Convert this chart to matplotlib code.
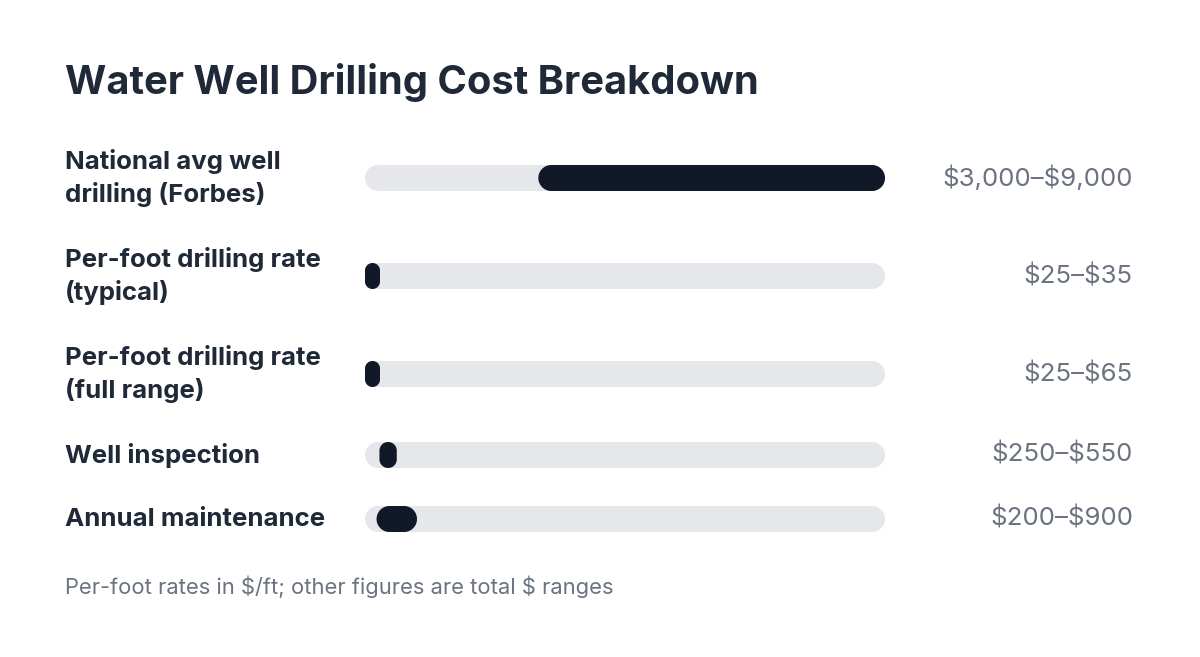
import matplotlib
matplotlib.use("Agg")
import numpy as np
import matplotlib.pyplot as plt
from matplotlib.patches import Polygon

title = "Water Well Drilling Cost Breakdown"
categories = ["National avg well\ndrilling (Forbes)",
              "Per-foot drilling rate\n(typical)",
              "Per-foot drilling rate\n(full range)",
              "Well inspection",
              "Annual maintenance"]
low = [3000, 25, 25, 250, 200]
high = [9000, 35, 65, 550, 900]
value_labels = ["$3,000–$9,000", "$25–$35", "$25–$65", "$250–$550", "$200–$900"]
scale_max = 9000
footnote = "Per-foot rates in $/ft; other figures are total $ ranges"

W, H, DPI = 1200, 657, 100
plt.rcParams['font.family'] = ['Inter', 'DejaVu Sans']
plt.rcParams['text.parse_math'] = False
fig = plt.figure(figsize=(W / DPI, H / DPI), dpi=DPI)
fig.patch.set_facecolor('white')

# layout (pixels)
track_left, track_right = 365, 885
row_y = [178, 276, 374, 455, 519]
bar_h = 26
min_w = 15

ax = fig.add_axes([track_left / W, 0, (track_right - track_left) / W, 1])
ax.set_xlim(0, scale_max)
ax.set_ylim(H, 0)
ax.axis('off')

sx = scale_max / (track_right - track_left)  # data units per px (x)

TRACK = '#e5e7eb'
DARK = '#111827'
TEXT = '#1f2937'
GRAY = '#6b7280'


def pill(x0, x1, yc, color, z):
    w_px = (x1 - x0) / sx
    r = min(bar_h / 2, w_px / 2)
    y0, y1 = yc - bar_h / 2, yc + bar_h / 2
    corners = [
        (x1 - r * sx, y1 - r, 0),
        (x0 + r * sx, y1 - r, 90),
        (x0 + r * sx, y0 + r, 180),
        (x1 - r * sx, y0 + r, 270),
    ]
    pts = []
    for cx, cy, a0 in corners:
        t = np.radians(np.linspace(a0, a0 + 90, 32))
        pts.append(np.column_stack([cx + r * sx * np.cos(t), cy + r * np.sin(t)]))
    poly = Polygon(np.vstack(pts), closed=True, facecolor=color,
                   edgecolor='none', zorder=z)
    ax.add_patch(poly)


for i, (lo, hi) in enumerate(zip(low, high)):
    yc = row_y[i]
    pill(0, scale_max, yc, TRACK, 1)
    w = max(hi - lo, min_w * sx)
    x0 = lo
    if x0 + w > scale_max:
        x0 = scale_max - w
    if w > hi - lo:
        x0 = max(0, lo - (w - (hi - lo)) / 2)
    pill(x0, x0 + w, yc, DARK, 2)
    fig.text(65 / W, 1 - yc / H, categories[i], ha='left', va='center',
             fontsize=18.6, fontweight='bold', color=TEXT, linespacing=1.43)
    fig.text(1133 / W, 1 - yc / H, value_labels[i], ha='right', va='center',
             fontsize=18.6, color=GRAY)

fig.text(65 / W, 1 - 82 / H, title, ha='left', va='center',
         fontsize=28.7, fontweight='bold', color=TEXT)
fig.text(65 / W, 1 - 587 / H, footnote, ha='left', va='center',
         fontsize=15.8, color=GRAY)

fig.savefig('out.png', dpi=DPI, facecolor='white')
